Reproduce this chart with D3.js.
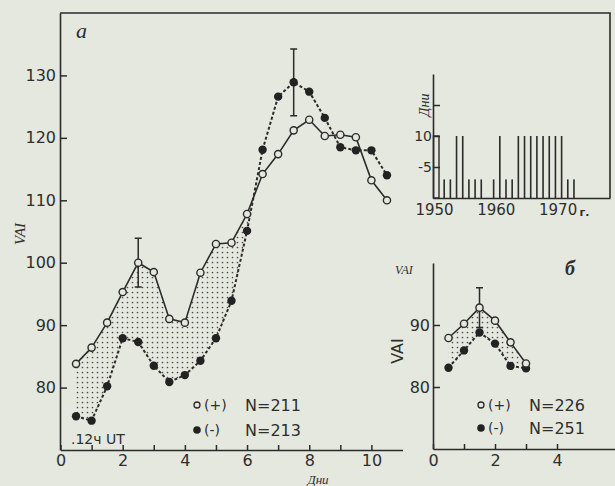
<!DOCTYPE html>
<html><head><meta charset="utf-8">
<script src="https://cdn.jsdelivr.net/npm/d3@7"></script>
<style>
html,body{margin:0;padding:0;background:#e5e8de;}
svg{display:block;}
text{font-family:"DejaVu Sans",sans-serif;fill:#2e2e2e;}
.ital{font-family:"Liberation Serif",serif;font-style:italic;}
</style></head><body>
<svg id="chart" width="615" height="486"></svg>
<script>
// Panel а: mean VAI by day relative to sector-boundary crossing (12h UT)
const daysA  = [0.5,1,1.5,2,2.5,3,3.5,4,4.5,5,5.5,6,6.5,7,7.5,8,8.5,9,9.5,10,10.5];
const plusA  = [83.8,86.4,90.4,95.3,100,98.5,91,90.4,98.4,103,103.2,107.8,114.2,117.4,121.2,122.9,120.3,120.5,120.1,113.2,110];
const minusA = [75.4,74.7,80.2,87.9,87.3,83.5,80.9,82,84.3,87.9,93.9,105.1,118.1,126.6,128.9,127.4,123.2,118.5,118,118,114];
const shadeLimitA = 6.5;           // shading only over the first interval
const errA = [ {day:2.5, series:"plus", half:3.9}, {day:7.5, series:"minus", half:5.35} ];
const yTicksA = [80,90,100,110,120,130];
const xTicksA = [0,1,2,3,4,5,6,7,8,9,10];
const legendA = [ ["(+)","N=211"], ["(-)","N=213"] ];

// Panel б
const daysB  = [0.5,1,1.5,2,2.5,3];
const plusB  = [87.9,90.2,92.8,90.7,87.2,83.8];
const minusB = [83.1,85.9,88.8,87,83.4,83];
const errB = [ {day:1.5, series:"plus", half:3.2} ];
const yTicksB = [80,90];
const xTicksB = [0,1,2,3,4];
const legendB = [ ["(+)","N=226"], ["(-)","N=251"] ];

// Inset: number of days per year
const years    = d3.range(1950,1973);
const dayCount = [10,3,3,10,10,3,3,3,0,3,10,3,3,10,10,10,10,10,10,10,10,3,3];
const yTicksIn = [5,10,15];
const yTickLabelsIn = ["-5","10",""];
const xTicksIn = [1950,1960,1970];

const INK = "#2b2b2b", BG = "#e5e8de";
const svg = d3.select("#chart");

// dotted fill pattern
svg.append("defs").append("pattern")
  .attr("id","dots").attr("patternUnits","userSpaceOnUse")
  .attr("width",5).attr("height",5)
  .append("circle").attr("cx",2.5).attr("cy",2.5).attr("r",0.85).attr("fill","#4a4a4a");

// frame around the upper part
svg.append("path").attr("d","M60,13H610V198").attr("fill","none").attr("stroke",INK).attr("stroke-width",1.6);

function panel(opt){
  const g = svg.append("g");
  const {x, y, days, plus, minus, errs, shadeLimit, id} = opt;
  const pts = (arr) => days.map((d,i)=>({d, v:arr[i]}));
  const P = pts(plus), M = pts(minus);

  // shading where (+) lies above (−)
  const clip = svg.select("defs").append("clipPath").attr("id","clip"+id);
  clip.append("path").attr("d", d3.area().x(p=>x(p.d)).y0(y.range()[0]).y1(p=>y(p.v))(P));
  g.append("path")
    .attr("d", d3.area().x(p=>x(p.d)).y0(p=>y(p.v)).y1(y.range()[1])(M.filter(p=>p.d<=shadeLimit)))
    .attr("fill","url(#dots)").attr("clip-path","url(#clip"+id+")");

  const line = d3.line().x(p=>x(p.d)).y(p=>y(p.v));
  g.append("path").attr("d",line(M)).attr("fill","none").attr("stroke",INK)
    .attr("stroke-width",2).attr("stroke-dasharray","3,2.2");
  g.append("path").attr("d",line(P)).attr("fill","none").attr("stroke",INK).attr("stroke-width",1.6);

  // error bars
  errs.forEach(e=>{
    const arr = e.series==="plus" ? plus : minus;
    const v = arr[days.indexOf(e.day)];
    const cx = x(e.day);
    g.append("path")
      .attr("d",`M${cx-3.5},${y(v+e.half)}H${cx+3.5}M${cx},${y(v+e.half)}V${y(v-e.half)}M${cx-3.5},${y(v-e.half)}H${cx+3.5}`)
      .attr("stroke",INK).attr("stroke-width",1.5).attr("fill","none");
  });

  g.selectAll(".m").data(M).join("circle")
    .attr("cx",p=>x(p.d)).attr("cy",p=>y(p.v)).attr("r",4.2).attr("fill","#222");
  g.selectAll(".p").data(P).join("circle")
    .attr("cx",p=>x(p.d)).attr("cy",p=>y(p.v)).attr("r",3.6)
    .attr("fill",BG).attr("stroke",INK).attr("stroke-width",1.4);
  return g;
}

function styleAxis(sel){
  sel.selectAll("path.domain").attr("stroke",INK).attr("stroke-width",1.6);
  sel.selectAll(".tick line").attr("stroke",INK).attr("stroke-width",1.5);
  sel.selectAll("text").attr("fill","#2e2e2e").attr("font-family","DejaVu Sans");
}

// ---------- Panel а ----------
const xA = d3.scaleLinear().domain([0,11]).range([60.5,402.5]);
const yA = d3.scaleLinear().domain([70,140]).range([450,13]);

panel({x:xA, y:yA, days:daysA, plus:plusA, minus:minusA, errs:errA, shadeLimit:shadeLimitA, id:"A"});

svg.append("g").attr("transform","translate(60,0)")
  .call(d3.axisLeft(yA).tickValues(yTicksA).tickSizeInner(-7).tickSizeOuter(0).tickPadding(4))
  .call(styleAxis).call(s=>s.selectAll("text").attr("font-size",16));
svg.append("g").attr("transform","translate(0,450)")
  .call(d3.axisBottom(xA).tickValues(xTicksA).tickSizeInner(-5).tickSizeOuter(0).tickPadding(5)
        .tickFormat(d=> d%2===0 ? d : ""))
  .call(styleAxis).call(s=>s.selectAll("text").attr("font-size",16));

svg.append("text").attr("class","ital").attr("x",76).attr("y",38).attr("font-size",22).text("а");
svg.append("text").attr("class","ital").attr("transform","translate(25,234) rotate(-90)")
  .attr("text-anchor","middle").attr("font-size",15).text("VAI");
svg.append("text").attr("class","ital").attr("x",318).attr("y",484).attr("text-anchor","middle")
  .attr("font-size",13).text("Дни");
svg.append("text").attr("x",71).attr("y",444).attr("font-size",14).text(".12ч UT");

function legend(x0, y0, dy, rows){
  rows.forEach((r,i)=>{
    const cy = y0 + i*dy;
    if(i===0) svg.append("circle").attr("cx",x0).attr("cy",cy).attr("r",3)
      .attr("fill",BG).attr("stroke",INK).attr("stroke-width",1.3);
    else svg.append("circle").attr("cx",x0).attr("cy",cy).attr("r",3.8).attr("fill","#222");
    svg.append("text").attr("x",x0+7).attr("y",cy+5).attr("font-size",14).text(r[0]);
    svg.append("text").attr("x",x0+48).attr("y",cy+6).attr("font-size",16).text(r[1]);
  });
}
legend(197, 405, 25, legendA);

// ---------- Inset ----------
const xIn = d3.scaleLinear().domain([1949.19,1977.83]).range([433,610]);
const yIn = d3.scaleLinear().domain([0,20]).range([198,74]);

svg.append("g").selectAll("rect").data(years.map((yr,i)=>({yr, n:dayCount[i]})).filter(d=>d.n>0))
  .join("rect")
  .attr("x",d=> d.yr===1950 ? 433.5 : xIn(d.yr)-0.8)
  .attr("width",d=> d.yr===1950 ? 5.5 : 1.6)
  .attr("y",d=>yIn(d.n)).attr("height",d=>yIn(0)-yIn(d.n))
  .attr("fill",d=> d.yr===1950 ? "none" : INK)
  .attr("stroke",d=> d.yr===1950 ? INK : "none").attr("stroke-width",1.4);

svg.append("g").attr("transform","translate(433,0)")
  .call(d3.axisLeft(yIn).tickValues(yTicksIn).tickSizeInner(-7).tickSizeOuter(0).tickPadding(1)
        .tickFormat((d,i)=>yTickLabelsIn[i]))
  .call(styleAxis).call(s=>s.selectAll("text").attr("font-size",14));
svg.append("g").attr("transform","translate(0,198)")
  .call(d3.axisBottom(xIn).tickValues(xTicksIn).tickSize(0).tickPadding(6).tickFormat(d3.format("d")))
  .call(styleAxis).call(s=>s.selectAll("text").attr("font-size",15).attr("dx",-4));
svg.append("text").attr("x",xIn(1970)+18).attr("y",216).attr("font-size",11).attr("font-weight","bold").text("г.");
svg.append("text").attr("class","ital").attr("transform","translate(429,105) rotate(-90)")
  .attr("text-anchor","middle").attr("font-size",14).text("Дни");

// ---------- Panel б ----------
const xB = d3.scaleLinear().domain([0,5.87]).range([433,615]);
const yB = d3.scaleLinear().domain([70,100]).range([449,263]);

panel({x:xB, y:yB, days:daysB, plus:plusB, minus:minusB, errs:errB, shadeLimit:10, id:"B"});

svg.append("g").attr("transform","translate(433,0)")
  .call(d3.axisLeft(yB).tickValues(yTicksB).tickSizeInner(-7).tickSizeOuter(0).tickPadding(3))
  .call(styleAxis).call(s=>s.selectAll("text").attr("font-size",16));
svg.append("g").attr("transform","translate(0,449)")
  .call(d3.axisBottom(xB).tickValues(xTicksB).tickSizeInner(-5).tickSizeOuter(0).tickPadding(6)
        .tickFormat(d=> d%2===0 ? d : ""))
  .call(styleAxis).call(s=>s.selectAll("text").attr("font-size",16));

svg.append("text").attr("class","ital").attr("x",395).attr("y",274).attr("font-size",12).text("VAI");
svg.append("text").attr("transform","translate(403,351) rotate(-90)")
  .attr("text-anchor","middle").attr("font-size",16).text("VAI");
svg.append("text").attr("class","ital").attr("x",565).attr("y",275).attr("font-size",20)
  .attr("font-weight","bold").text("б");

legend(481, 405, 23, legendB);
</script>
</body></html>
